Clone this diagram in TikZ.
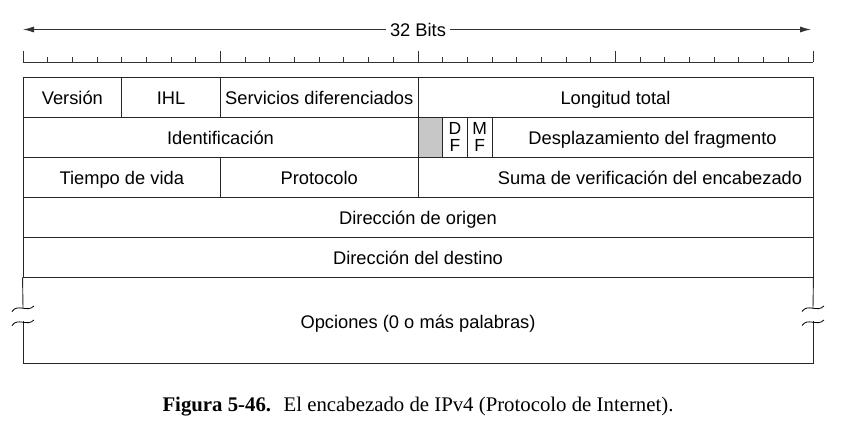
\documentclass[tikz,border=0pt]{standalone}
\usepackage{fontspec}
\setmainfont{Liberation Serif}
\setsansfont{Liberation Sans}
\usetikzlibrary{arrows.meta}
\definecolor{flagfill}{gray}{0.78}
\begin{document}
\begin{tikzpicture}[x=1pt,y=-1pt,line width=0.9pt,
  fbox/.style={draw=black!85,rectangle,inner sep=0pt,minimum height=40pt},
  field/.style={fbox,font=\sffamily\fontsize{18.3}{20}\selectfont,text height=14.6pt,text depth=0pt},
  flagbox/.style={fbox,minimum width=24.6875pt,align=center,font=\sffamily\fontsize{17.5}{17}\selectfont},
  lbl/.style={inner sep=0pt,font=\sffamily\fontsize{18.3}{20}\selectfont,text height=14.6pt,text depth=0pt},
  ruleline/.style={draw=black!80,line width=0.9pt},
  wave/.style={draw=black,line width=0.8pt}]
\useasboundingbox (0,0) rectangle (841,429);
% ruler
\coordinate (r0) at (23,62);
\coordinate (r1) at (813,62);
\draw[ruleline] (r0) -- (r1);
\foreach \b in {0,...,32}{
  \pgfmathsetmacro{\xx}{23+24.6875*\b}
  \pgfmathtruncatemacro{\m}{mod(\b,8)}
  \ifnum\m=0
    \draw[ruleline] (\xx,51) -- (\xx,62);
  \else
    \draw[ruleline] (\xx,57) -- (\xx,62);
  \fi
}
% 32 bits arrow
\node[lbl,fill=white,inner xsep=4pt] (bits) at (418,29.5) {32 Bits};
\coordinate (al) at (23,29.5);
\coordinate (ar) at (811,29.5);
\draw[black!80,-{Latex[length=11pt,width=6pt]}] (bits.west) -- (al);
\draw[black!80,-{Latex[length=11pt,width=6pt]}] (bits.east) -- (ar);
% row 1
\node[field,minimum width=98.75pt] (ver) at (72.375,97) {Versión};
\node[field,minimum width=98.75pt] (ihl) at (171.125,97) {IHL};
\node[field,minimum width=197.5pt] (serv) at (319.25,97) {Servicios diferenciados};
\node[field,minimum width=395pt] (long) at (615.5,97) {Longitud total};
% row 2
\node[field,minimum width=395pt] (ident) at (220.5,137) {Identificación};
\node[fbox,fill=flagfill,minimum width=24.6875pt] (res) at (430.34,137) {};
\node[flagbox] (df) at (455.03,137) {D\\F};
\node[flagbox] (mf) at (479.72,137) {M\\F};
\node[field,minimum width=320.94pt] (desp) at (652.53,137) {Desplazamiento del fragmento};
% row 3
\node[field,minimum width=197.5pt] (ttl) at (121.75,177) {Tiempo de vida};
\node[field,minimum width=197.5pt] (prot) at (319.25,177) {Protocolo};
\node[fbox,minimum width=395pt] (suma) at (615.5,177) {};
\node[lbl] (sumatxt) at (650,177) {Suma de verificación del encabezado};
% rows 4,5
\node[field,minimum width=790pt] (orig) at (418,217) {Dirección de origen};
\node[field,minimum width=790pt] (dest) at (418,257) {Dirección del destino};
% options row
\node[lbl] (opc) at (418,321) {Opciones (0 o más palabras)};
\coordinate (bl) at (23,363);
\coordinate (br) at (813,363);
\coordinate (lt) at (23,308);
\coordinate (lb) at (23,321);
\coordinate (rt) at (813,308);
\coordinate (rb) at (813,321);
\draw[draw=black!85] (dest.south west) -- (lt);
\draw[draw=black!85] (lb) -- (bl) -- (br) -- (rb);
\draw[draw=black!85] (dest.south east) -- (rt);
\foreach \xc in {23,813}{
  \foreach \yc in {308,322}{
    \draw[wave] (\xc-11,\yc+3.5) .. controls (\xc-5,\yc-5) and (\xc+4,\yc+5) .. (\xc+11,\yc-2);
  }
}
% caption
\node[inner sep=0pt,font=\fontsize{20.8}{23}\selectfont] (cap) at (418,407) {\textbf{Figura 5-46.}\hspace{0.6em}El encabezado de IPv4 (Protocolo de Internet).};
\end{tikzpicture}
\end{document}
